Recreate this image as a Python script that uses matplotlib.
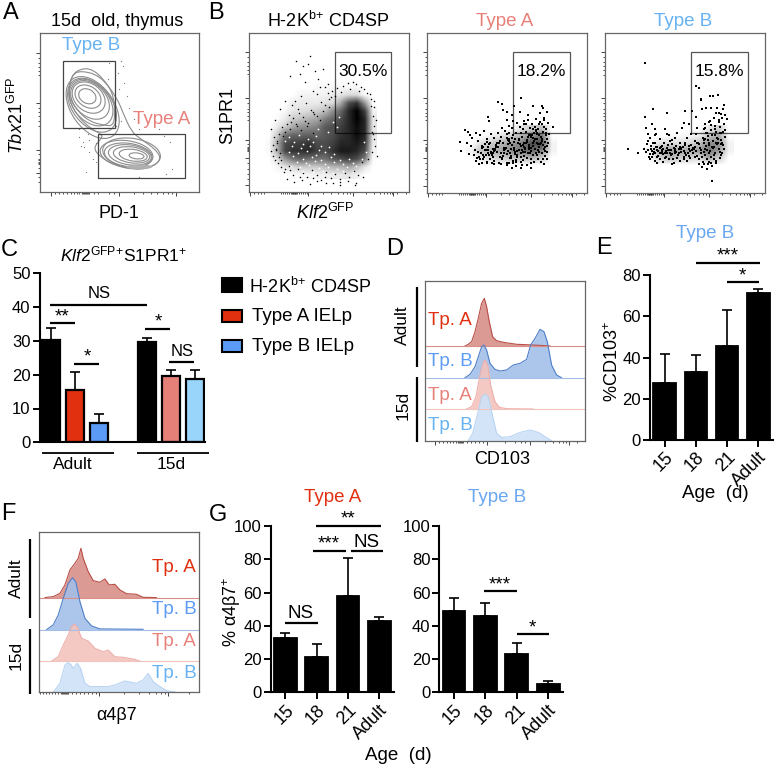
import matplotlib
matplotlib.use('Agg')
import matplotlib.pyplot as plt
from matplotlib.colors import LinearSegmentedColormap
from matplotlib.lines import Line2D
from matplotlib.patches import Ellipse, PathPatch, Rectangle
from matplotlib.path import Path

plt.rcParams['font.family'] = ['Liberation Sans', 'DejaVu Sans']
plt.rcParams['mathtext.fontset'] = 'custom'
plt.rcParams['mathtext.rm'] = 'Liberation Sans'
plt.rcParams['mathtext.it'] = 'Liberation Sans:italic'
plt.rcParams['mathtext.bf'] = 'Liberation Sans:bold'

W, H = 774, 766
RED, BLUE, SALMON, SKY = '#e03010', '#5b9bf5', '#e8807a', '#66b2f2'

# --- bar chart values ---
c_vals = [30.2, 15.5, 5.7, 29.8, 19.5, 18.7]
c_errs = [3.5, 5.3, 2.6, 1.0, 1.8, 2.7]
c_pos = [0, 1, 2, 4, 5, 6]
c_cols = ['black', RED, '#5b9bf5', 'black', '#e48078', '#99d4fb']
ages = ['15', '18', '21', 'Adult']
e_vals = [27.5, 33, 45.5, 71.5]
e_errs = [14, 8, 17.3, 1.8]
g1_vals = [32.5, 21.5, 58, 43]
g1_errs = [3, 7.5, 23, 2.5]
g2_vals = [49, 46, 23, 5]
g2_errs = [7.5, 7.5, 6.5, 2]

# --- histogram traces (channel, height) ---
d_aa_x = [39.7, 43, 46.3, 49.7, 53, 56.3, 59, 61.3, 64, 67.3, 71.3, 78, 91.3, 108, 124.7]
d_aa_h = [0, 1.7, 4.3, 14.3, 27.7, 42.7, 47.7, 39.3, 24.3, 9.3, 5.3, 3.7, 1.7, 1, 0]
d_ab_x = [39.7, 44.7, 49.7, 53, 56.3, 58.7, 61.3, 64.7, 69.7, 74.7, 81.3, 88, 94.7, 101.3, 105.3, 109.7, 114.7, 118.7, 122, 126.3, 131.3, 136.3]
d_ab_h = [0, 3.3, 11, 21, 31, 32.7, 27.7, 14.3, 8.3, 6.7, 7.7, 12.7, 14.3, 18.3, 32.7, 39.3, 48.3, 46, 36, 12.7, 2.7, 0]
d_ya_x = [41.3, 46.3, 50.7, 54.7, 58, 60, 62.7, 65.3, 69.7, 74, 81.3, 108]
d_ya_h = [0, 2.3, 12.3, 34, 47.3, 48.7, 42.3, 24, 7.3, 1.7, 0.3, 0]
d_yb_x = [43, 47.3, 52, 56.3, 59.7, 63, 66.3, 71.3, 76.3, 84.7, 94.7, 104.7, 113, 119.7, 126.3]
d_yb_h = [0, 7.3, 25.7, 44, 46.7, 44, 29, 7.3, 3.3, 4, 8.3, 10.7, 8.3, 4, 0]
f_aa_x = [5.7, 14, 20.7, 25.7, 30.7, 35.7, 39, 41.7, 44, 49, 54, 60.7, 65.7, 70, 75.7, 80.7, 87.3, 97.3, 104, 117.3]
f_aa_h = [0, 1, 4.3, 12.7, 27.7, 34.3, 39.3, 49.3, 39.3, 26, 17, 15.3, 18.7, 12.7, 13.3, 7.7, 4, 3.3, 0.3, 0]
f_ab_x = [7.3, 14, 19, 24, 29, 33.3, 36.7, 40.7, 45.7, 52.3, 60.7, 104]
f_ab_h = [0, 4.7, 14.7, 31.3, 46.3, 52, 47.3, 28, 11.3, 3.7, 0.7, 0.3]
f_ya_x = [12.3, 19, 24, 29, 32.3, 34.7, 38, 42.3, 49, 55.7, 64, 69, 75.7, 84, 94, 100.7]
f_ya_h = [0, 4.3, 16, 26, 34.3, 37, 34.3, 22.7, 20, 12.7, 9.3, 11, 4.3, 3.7, 2, 0]
f_yb_x = [14, 20.7, 25.7, 28.3, 31.3, 34, 38, 41.3, 45.7, 50.7, 60.7, 69, 75.7, 85.7, 97.3, 104, 109, 114, 120.7, 127.3, 137.3]
f_yb_h = [0, 9, 27.3, 29.7, 28.3, 24, 29, 24, 9, 5.7, 5.7, 5.7, 7.3, 11.3, 9, 12.3, 19, 10.7, 5.7, 1.7, 0]

# --- contour rings panel A: cx, cy, w, h, angle ---
rings_b = [(144, 289, 55, 42, -30), (146, 288, 85, 62, -35), (148, 285, 110, 82, -40), (152, 278, 135, 95, -45),
           (155, 270, 160, 108, -50), (158, 262, 185, 118, -52), (160, 255, 210, 128, -55)]
rings_a = [(292, 109, 45, 18, -6), (282, 111, 85, 35, -8), (277, 112, 110, 48, -8), (272, 112, 130, 60, -8),
           (267, 112, 145, 70, -8), (262, 115, 160, 80, -8), (277, 117, 175, 90, -8)]
outer1_x = [87, 97, 122, 157, 192, 222, 227, 222, 192, 152, 117, 94]
outer1_y = [307, 352, 372, 372, 342, 297, 237, 199, 202, 212, 242, 277]
outer2_x = [122, 182, 232, 252, 277, 302, 352, 367, 332, 282, 222, 182, 162, 182, 192, 152, 112, 90, 87, 97]
outer2_y = [367, 352, 287, 237, 182, 162, 127, 97, 72, 67, 82, 107, 132, 157, 172, 192, 232, 277, 307, 352]
a_dots_x = [120, 145, 240, 255, 262, 270, 285, 120, 130, 135, 150, 160, 170, 392, 375, 360, 330, 300, 250, 245, 235, 140, 125, 150, 170, 400, 380, 300, 205, 210, 230, 245]
a_dots_y = [190, 175, 310, 330, 290, 255, 220, 165, 150, 135, 120, 100, 90, 150, 170, 190, 175, 190, 380, 395, 360, 60, 140, 158, 148, 70, 55, 45, 340, 390, 200, 215]

b1_dens = [
    [0, 0, 0, 0, 0, 0, 0, 0, 0, 0, 0, 0, 0, 0],
    [0, 0, 0, 0, 0, 0, 0, 0, 0, 0, 0, 0, 0, 0],
    [0, 0, 0, 0, 0, 0, 0, 0, 0, 0, 0, 0, 0, 0],
    [0, 0, 0, 0, 0, 0, .03, .03, .03, .03, .03, .03, 0, 0],
    [0, 0, 0, 0, .05, .05, .05, .05, .08, .1, .15, .15, .03, 0],
    [0, 0, 0, .08, .08, .08, .08, .12, .15, .35, .7, .8, .4, 0],
    [0, 0, .03, .1, .12, .15, .2, .25, .45, .6, .85, 1, .75, .05],
    [0, .02, .08, .2, .25, .3, .35, .5, .6, .7, .85, 1, .85, .1],
    [0, .08, .2, .35, .42, .45, .5, .65, .7, .75, .85, .95, .85, .1],
    [0, .2, .55, .6, .6, .62, .6, .65, .7, .8, .85, .95, .85, .1],
    [.02, .3, .7, .75, .75, .8, .7, .7, .75, .85, .85, .9, .8, .08],
    [.02, .3, .72, .8, .8, .85, .75, .7, .8, .9, .9, .85, .7, .05],
    [0, .12, .4, .55, .6, .55, .55, .55, .65, .7, .75, .7, .5, .02],
    [0, .03, .1, .15, .2, .2, .2, .25, .28, .3, .35, .25, .1, 0],
    [0, 0, 0, .02, .03, .03, .05, .05, .08, .08, .1, .06, 0, 0],
]
b1_x = [141, 161, 181, 196, 151, 176, 206, 221, 166, 191, 211, 236, 136, 156, 121, 106, 91, 76, 66, 81, 96, 121, 151, 191, 231, 271, 316, 341, 371, 381, 376, 366, 331, 301, 276, 246, 226, 203,
        128, 146, 170, 190, 215, 240, 118, 132, 150, 168, 186, 204, 222, 240, 258, 112, 126, 143, 160, 177, 194, 211, 228, 98, 108, 122, 139, 156, 173, 190, 88, 101,
        84, 72, 79, 91, 70, 66, 78, 86, 74, 83, 95, 107, 90, 104, 118, 132, 146, 160, 174, 188, 202, 216, 230, 244, 258, 272, 286, 300, 314, 328, 112, 135, 158, 181, 204, 227, 250, 273, 296, 319,
        372, 376, 368, 374, 379, 370, 383, 366, 375, 362, 354, 345, 336, 322, 310, 296, 280, 262, 248, 236, 340, 356]
b1_y = [396, 381, 411, 366, 356, 386, 341, 371, 331, 306, 316, 326, 276, 291, 351, 276, 251, 216, 191, 126, 96, 66, 46, 41, 26, 31, 21, 46, 176, 216, 256, 281, 306, 311, 301, 286, 316, 296,
        262, 250, 268, 240, 272, 258, 232, 222, 238, 215, 248, 228, 246, 280, 290, 205, 212, 198, 226, 208, 236, 218, 262, 195, 182, 190, 204, 186, 198, 178, 175, 168,
        155, 142, 130, 118, 108, 125, 96, 88, 165, 148, 75, 68, 105, 60, 78, 52, 70, 58, 44, 66, 50, 36, 60, 42, 54, 38, 58, 44, 62, 50, 40, 30, 36, 24, 32, 44, 28, 22, 34, 26,
        230, 200, 180, 160, 140, 120, 110, 260, 275, 295, 300, 310, 318, 325, 332, 328, 320, 315, 305, 300, 90, 100]
b1_wx = [120, 148, 175, 199, 108, 135, 162, 190, 215, 128, 155, 182, 210, 238, 118, 145, 172, 200, 228, 255, 132, 160, 188, 216, 244, 272, 300, 142, 170, 198, 226, 254, 282, 310, 125, 152, 180, 208, 236, 264, 292, 320, 160, 190, 220, 250, 280, 310, 205, 235, 262, 345, 352, 338, 250, 268]
b1_wy = [165, 172, 160, 170, 155, 150, 145, 152, 140, 140, 132, 138, 128, 136, 122, 118, 125, 112, 120, 115, 108, 100, 105, 98, 106, 96, 100, 92, 88, 94, 86, 90, 84, 88, 78, 74, 80, 72, 76, 70, 74, 78, 64, 60, 62, 58, 64, 60, 190, 180, 195, 150, 120, 100, 210, 225]

b2_dens = [
    [0, 0, 0, 0, 0, .12, .2, .25, 0],
    [0, 0, .05, .12, .2, .3, .45, .55, 0],
    [0, .12, .2, .3, .4, .5, .7, .7, .05],
    [.05, .25, .3, .35, .45, .55, .6, .5, .05],
    [0, .1, .15, .2, .25, .25, .3, .2, 0],
    [0, 0, 0, 0, 0, 0, 0, 0, 0],
]
b2_x = [213, 223, 280, 260, 228, 238, 183, 184, 318, 343, 346, 358, 278, 253, 238, 113, 123, 128, 98, 101, 125, 156, 163, 178, 193, 240, 253, 280, 312, 351, 378,
        120, 135, 146, 158, 170, 132, 142, 152, 165, 178, 190, 140, 150, 162, 175, 188, 200, 212, 225, 145, 157, 170, 183, 196, 208, 220, 232, 244, 256,
        168, 180, 192, 205, 218, 230, 242, 254, 266, 278, 290, 302, 314, 326, 338, 350, 362, 248, 260, 272, 284, 296, 308, 320, 332, 344, 356, 366,
        252, 264, 276, 288, 300, 312, 324, 336, 348, 360, 258, 270, 282, 294, 306, 318, 330, 342, 354, 244, 266, 288, 310, 332, 352,
        196, 210, 224, 238, 252, 266, 280, 294, 308, 322, 336, 350, 360, 200, 216, 232, 248, 264, 280, 296, 312, 328, 344, 186, 204, 222, 240, 258, 276, 294, 312, 330, 348,
        172, 190, 208, 226, 244, 262, 280, 298, 316, 334, 352, 180, 200, 220, 240, 260, 280, 300, 320, 340, 358, 210, 230, 250, 270, 290, 310, 330, 225, 245, 265, 285, 305, 325,
        151, 163, 177, 185, 199, 213, 227, 241, 255, 269, 283, 297, 311, 325, 339, 353, 155, 168, 181, 194, 207, 221, 235, 249, 263, 277, 291, 305, 319, 333, 347, 361, 174, 189, 203, 217, 231, 246, 261, 275, 289, 303, 317, 331, 345, 358,
        167, 183, 198, 214, 229, 243, 258, 273, 287, 301, 316, 329, 343, 356, 286, 299, 313, 327, 341, 355, 291, 306, 322, 337, 351, 301, 318, 335, 349, 268, 254, 239]
b2_y = [271, 266, 284, 260, 248, 243, 226, 215, 260, 260, 253, 243, 243, 233, 218, 188, 181, 173, 153, 125, 116, 86, 90, 90, 90, 83, 73, 73, 73, 86, 198,
        150, 165, 178, 172, 185, 140, 128, 155, 140, 160, 175, 112, 105, 118, 128, 148, 165, 178, 195, 96, 100, 108, 118, 132, 150, 168, 185, 200, 215,
        138, 152, 122, 138, 155, 128, 145, 165, 180, 196, 215, 232, 205, 222, 238, 225, 208, 120, 135, 150, 168, 182, 195, 178, 192, 205, 190, 175,
        105, 115, 128, 142, 158, 172, 160, 172, 182, 160, 95, 108, 118, 130, 142, 150, 160, 148, 138, 88, 92, 98, 88, 102, 110,
        108, 122, 100, 115, 132, 98, 108, 122, 118, 132, 122, 132, 122, 95, 88, 132, 148, 162, 178, 205, 125, 148, 118, 112, 128, 118, 90, 90, 160, 135, 100, 112, 100,
        128, 118, 138, 148, 178, 118, 140, 105, 112, 138, 152, 92, 85, 85, 165, 152, 92, 82, 92, 92, 100, 148, 135, 110, 125, 150, 168, 175, 105, 162, 80, 82, 172, 185,
        122, 135, 112, 145, 125, 138, 110, 125, 142, 112, 128, 148, 135, 118, 145, 125, 108, 102, 128, 112, 142, 120, 135, 105, 122, 145, 110, 138, 155, 128, 142, 150, 145, 102, 130, 108, 118, 155, 128, 158, 138, 118, 165, 145, 162, 140,
        112, 138, 120, 148, 132, 158, 172, 150, 122, 168, 140, 180, 155, 172, 190, 152, 172, 188, 168, 180, 205, 130, 196, 212, 198, 218, 190, 205, 218, 210, 195, 175]

b3_dens = [
    [0, 0, 0, 0, 0, 0, .1, .2, 0],
    [0, 0, .03, .03, .04, .06, .25, .35, 0],
    [0, .12, .15, .12, .14, .25, .45, .45, .05],
    [.05, .3, .4, .35, .35, .4, .55, .4, .05],
    [0, .18, .28, .22, .18, .15, .35, .2, 0],
    [0, 0, 0, 0, 0, 0, 0, 0, 0],
]
b3_x = [118, 320, 271, 280, 288, 286, 314, 322, 339, 144, 120, 184, 239, 259, 69, 97, 116, 128, 150, 140, 122, 134, 152, 165, 180, 192, 200, 215, 230, 245, 258,
        272, 290, 302, 318, 334, 346, 356, 364, 300, 310, 325, 340, 352, 294, 306, 318, 330, 342, 350, 360, 296, 308, 320, 332, 344, 356, 300, 312, 324, 336,
        348, 360, 288, 298, 310, 322, 334, 346, 358, 280, 292, 304, 316, 328, 340, 352, 272, 284, 296, 308, 320, 332, 344, 276, 290, 304, 318, 332, 346,
        125, 138, 150, 163, 176, 188, 200, 213, 226, 238, 250, 262, 130, 144, 158, 172, 186, 200, 214, 228, 242, 256, 270, 135, 150, 165, 180, 195, 210, 225, 240, 255,
        128, 142, 156, 170, 184, 198, 212, 226, 240, 254, 268, 282, 140, 156, 172, 188, 204, 220, 236, 252, 268, 122, 148, 174, 200, 155, 170, 190, 205, 280, 295, 310, 325,
        150, 165, 185, 210, 272, 300, 328, 345, 165, 195, 225, 245, 235, 250, 275,
        127, 136, 147, 154, 168, 178, 191, 206, 219, 233, 247, 261, 274, 287, 303, 315, 327, 338, 349, 133, 146, 159, 169, 183, 194, 208, 222, 236, 249, 263, 277, 289, 305, 319, 331, 343, 355,
        141, 153, 167, 181, 196, 209, 224, 237, 251, 266, 281, 297, 312, 326, 339, 351, 299, 313, 329, 341, 353, 303, 317, 333, 347, 295, 309, 323, 337]
b3_y = [391, 36, 320, 314, 280, 279, 291, 291, 292, 252, 227, 238, 245, 245, 130, 118, 130, 175, 190, 205, 195, 165, 175, 160, 190, 172, 158, 180, 195, 165, 175,
        228, 252, 255, 255, 255, 235, 262, 220, 205, 212, 225, 240, 250, 165, 178, 188, 200, 212, 225, 232, 150, 158, 172, 182, 196, 205, 130, 142, 155, 165,
        178, 188, 120, 112, 118, 135, 145, 158, 168, 100, 92, 100, 108, 120, 130, 142, 125, 135, 122, 85, 80, 95, 105, 150, 78, 72, 90, 88, 112,
        145, 130, 118, 135, 148, 128, 115, 140, 122, 148, 130, 118, 108, 115, 125, 115, 135, 145, 105, 130, 112, 142, 155, 100, 95, 100, 105, 120, 130, 150, 118, 105,
        155, 148, 138, 128, 118, 112, 122, 135, 142, 125, 138, 145, 125, 108, 132, 142, 100, 118, 102, 110, 108, 122, 150, 92, 85, 88, 140, 102, 90, 85, 85, 92, 100,
        172, 160, 175, 165, 175, 162, 172, 178, 118, 155, 95, 95, 210, 205, 195,
        128, 140, 122, 128, 138, 120, 128, 135, 112, 138, 120, 128, 110, 128, 140, 125, 112, 148, 120, 115, 132, 110, 122, 108, 118, 124, 132, 108, 118, 135, 148, 108, 128, 138, 150, 122, 132,
        108, 138, 118, 125, 128, 118, 138, 125, 140, 132, 145, 158, 148, 138, 162, 148, 195, 215, 192, 218, 182, 178, 202, 238, 145, 192, 170]

# --- flow axis ticks ---
b_xmaj = [3, 176, 310, 433]
b_xmin = [15, 27, 36, 44, 94, 100, 106, 112, 118, 124, 128, 130, 132, 134, 136, 138, 140, 144, 150, 156, 162, 168, 172, 220, 245, 265, 280, 292, 302, 350, 375, 392, 405, 415, 424, 430, 445, 470]
b_ymaj = [423, 284, 158, 103, 20]
b_ymin = [408, 392, 380, 368, 355, 268, 252, 240, 230, 218, 146, 136, 133, 130, 127, 124, 88, 70, 55, 40]
a_xmaj = [34, 240, 412]
a_xmin = [46, 58, 70, 82, 94, 104, 112, 120, 127, 130, 133, 136, 139, 142, 145, 150, 165, 175, 210, 225, 285, 310, 335, 355, 372, 388, 400]
a_ymaj = [420, 269, 127, 57]
a_ymin = [405, 390, 378, 365, 352, 255, 240, 228, 215, 200, 115, 100, 96, 92, 88, 84, 72, 45, 30]

fig = plt.figure(figsize=(W / 100, H / 100), dpi=100)
fig.patch.set_facecolor('white')


def axpx(l, t, r, b):
    return fig.add_axes([l / W, 1 - b / H, (r - l) / W, (b - t) / H])


def txt(x, y, s, size=13, color='black', **kw):
    kw.setdefault('ha', 'center')
    kw.setdefault('va', 'center')
    fig.text(x / W, 1 - y / H, s, fontsize=size, color=color, **kw)


def hline(x0, x1, y, lw=1.6, color='black'):
    fig.add_artist(Line2D([x0 / W, x1 / W], [1 - y / H, 1 - y / H], color=color, lw=lw, solid_capstyle='butt'))


def vline(x, y0, y1, lw=1.6):
    fig.add_artist(Line2D([x / W, x / W], [1 - y0 / H, 1 - y1 / H], color='black', lw=lw, solid_capstyle='butt'))


def frame(ax, lim, xmaj, xmin, ymaj=None, ymin=None):
    ax.set_xlim(0, lim)
    ax.set_ylim(0, lim)
    ax.patch.set_alpha(0)
    for s in ax.spines.values():
        s.set_color('#666666')
        s.set_linewidth(0.9)
    ax.set_xticks(xmaj)
    ax.set_xticks(xmin, minor=True)
    ax.set_yticks(ymaj if ymaj else [])
    ax.set_yticks(ymin if ymin else [], minor=True)
    ax.set_xticklabels([])
    ax.set_yticklabels([])
    ax.tick_params(which='major', length=2.8, width=0.6, color='#222222')
    ax.tick_params(which='minor', length=1.6, width=0.6, color='#333333')


def gate(ax, x0, y0, x1, y1, color='#444444'):
    ax.add_patch(Rectangle((x0, y0), x1 - x0, y1 - y0, fill=False, ec=color, lw=0.9, zorder=1))


def loop(ax, xs, ys, color='#8c8c8c'):
    # closed rounded outline through the read-off corners
    pts = list(zip(xs, ys))
    mids = [((p[0] + q[0]) / 2, (p[1] + q[1]) / 2) for p, q in zip(pts, pts[1:] + pts[:1])]
    verts = [mids[-1]]
    codes = [Path.MOVETO]
    for p, m in zip(pts, mids):
        verts += [p, m]
        codes += [Path.CURVE3, Path.CURVE3]
    ax.add_patch(PathPatch(Path(verts, codes), fill=False, ec=color, lw=0.8))


cloud = LinearSegmentedColormap.from_list('cloud', [(0, 0, 0, 0), (0, 0, 0, 1)])


def density(ax, grid, x0, x1, y0, y1):
    ax.imshow(grid, cmap=cloud, vmin=0, vmax=1, extent=(x0, x1, y0, y1), aspect='auto', interpolation='bilinear', zorder=2)


def bars(ax, pos, vals, errs, cols, yticks, xlim, edge=1.3, width=0.725):
    ax.bar(pos, vals, width=width, color=cols, edgecolor='black', linewidth=edge, zorder=2)
    ax.errorbar(pos, vals, yerr=[[0] * len(errs), errs], fmt='none', ecolor='black', elinewidth=1.2, capsize=3.3, capthick=1.2, zorder=1)
    ax.set_xlim(*xlim)
    ax.set_ylim(0, yticks[-1])
    ax.set_yticks(yticks)
    ax.spines['top'].set_visible(False)
    ax.spines['right'].set_visible(False)
    ax.spines['left'].set_linewidth(1.5)
    ax.spines['bottom'].set_linewidth(1.5)
    ax.patch.set_alpha(0)
    ax.tick_params(axis='y', length=5, width=1.4, labelsize=12, pad=1.5)
    ax.tick_params(axis='x', length=5, width=1.4, labelsize=12, pad=1.5)


def age_ticks(ax):
    ax.set_xticks(range(4))
    ax.set_xticklabels(ages, rotation=45, ha='right', rotation_mode='anchor', fontsize=13)


# ---- A
ax_a = axpx(39.5, 33, 199, 192)
frame(ax_a, 480, a_xmaj, a_xmin, a_ymaj, a_ymin)
for cx, cy, w, h, ang in rings_b + rings_a:
    ax_a.add_patch(Ellipse((cx, cy), w, h, angle=ang, fill=False, ec='#8c8c8c', lw=0.8))
loop(ax_a, outer1_x, outer1_y)
loop(ax_a, outer2_x, outer2_y)
ax_a.add_patch(Ellipse((300, 76), 75, 12, fill=True, fc='#b0b0b0', ec='#b0b0b0', lw=0.5))
ax_a.scatter(a_dots_x, a_dots_y, s=0.8, color='#777777', lw=0)
gate(ax_a, 72, 192, 226, 394)
gate(ax_a, 177, 42, 437, 176)

# ---- B
ax_b1 = axpx(249.5, 33, 409, 192)
frame(ax_b1, 480, b_xmaj, b_xmin, b_ymaj, b_ymin)
gate(ax_b1, 257, 177, 427, 422, color='#555555')
density(ax_b1, b1_dens, 48, 384, 40, 400)
n = min(len(b1_x), len(b1_y))
ax_b1.scatter(b1_x[:n], b1_y[:n], s=1.2, color='black', lw=0, zorder=3)
n = min(len(b1_wx), len(b1_wy))
ax_b1.scatter(b1_wx[:n], b1_wy[:n], s=1.6, color='white', lw=0, zorder=3)
ax_b1.set_xlim(0, 480)
ax_b1.set_ylim(0, 480)

for ax_b, dens, ext, xs, ys, gx in [
    (axpx(427.3, 33, 587.3, 192.5), b2_dens, (115, 385, 70, 200), b2_x, b2_y, (257, 427)),
    (axpx(605.3, 33, 765.3, 192.5), b3_dens, (115, 385, 70, 200), b3_x, b3_y, (258, 427)),
]:
    frame(ax_b, 480, b_xmaj, b_xmin, b_ymaj, b_ymin)
    gate(ax_b, gx[0], 178, gx[1], 423, color='#555555')
    density(ax_b, dens, *ext)
    n = min(len(xs), len(ys))
    ax_b.scatter(xs[:n], ys[:n], s=4.5, color='black', marker='s', lw=0, zorder=3)
    ax_b.set_xlim(0, 480)
    ax_b.set_ylim(0, 480)

# ---- C
ax_c = axpx(39.5, 273.3, 205, 442.3)
bars(ax_c, c_pos, c_vals, c_errs, c_cols, [0, 10, 20, 30, 40, 50], (-0.48, 6.42), edge=1.6)
ax_c.set_xticks([])

# ---- D
ax_d = axpx(425.3, 280.7, 585.3, 440.7)
frame(ax_d, 160, [9.7, 62, 105, 144], [14, 18, 22, 25, 28, 31, 33, 34, 35, 36, 37, 38, 42, 46, 50, 54, 58, 80, 90, 96, 100, 120, 128, 134, 138, 141, 152])
for base, xs, hs, fc, ec in [
    (94.7, d_aa_x, d_aa_h, '#d98f88', '#b94f48'),
    (63, d_ab_x, d_ab_h, '#a3bfe8', '#4f80c8'),
    (31.7, d_ya_x, d_ya_h, '#f3c3be', '#eeb0aa'),
    (0, d_yb_x, d_yb_h, '#cfe2f8', '#b9d4f3'),
]:
    ys = [base + h for h in hs]
    ax_d.fill_between(xs, base, ys, color=fc, alpha=0.9, lw=0)
    ax_d.plot(xs, ys, color=ec, lw=0.8)
    ax_d.plot([0, 160], [base, base], color=fc, lw=0.8)

# ---- E
ax_e = axpx(650, 275, 773, 440)
bars(ax_e, range(4), e_vals, e_errs, ['black'] * 4, [0, 20, 40, 60, 80], (-0.47, 3.47))
age_ticks(ax_e)

# ---- F
ax_f = axpx(39.3, 532.3, 199, 692.3)
frame(ax_f, 160, [59.7, 129], [1, 4, 7, 10, 13, 16, 19, 22, 23, 24, 25, 26, 27, 28, 29, 33, 37, 41, 45, 49, 53, 57, 85, 100, 110, 117, 122, 126, 150])
for base, xs, hs, fc, ec in [
    (94.7, f_aa_x, f_aa_h, '#d98f88', '#b94f48'),
    (62.7, f_ab_x, f_ab_h, '#a3bfe8', '#4f80c8'),
    (31.3, f_ya_x, f_ya_h, '#f3c3be', '#eeb0aa'),
    (0, f_yb_x, f_yb_h, '#cfe2f8', '#b9d4f3'),
]:
    ys = [base + h for h in hs]
    ax_f.fill_between(xs, base, ys, color=fc, alpha=0.9, lw=0)
    ax_f.plot(xs, ys, color=ec, lw=0.8)
    ax_f.plot([0, 160], [base, base], color=fc, lw=0.8)

# ---- G
ax_g1 = axpx(270.7, 526, 394, 692.3)
bars(ax_g1, range(4), g1_vals, g1_errs, ['black'] * 4, [0, 20, 40, 60, 80, 100], (-0.47, 3.47))
age_ticks(ax_g1)
ax_g2 = axpx(439.3, 526, 563, 692.3)
bars(ax_g2, range(4), g2_vals, g2_errs, ['black'] * 4, [0, 20, 40, 60, 80, 100], (-0.47, 3.47))
age_ticks(ax_g2)

# ---- panel letters
for x, y, s in [(11, 13, 'A'), (216, 13, 'B'), (9, 250, 'C'), (395, 249, 'D'), (604, 248, 'E'), (8, 514, 'F'), (218, 515, 'G')]:
    txt(x, y, s, size=17)

# ---- panel A/B text
txt(117, 21, '15d  old, thymus')
txt(91, 46, 'Type B', color=SKY, size=13.5)
txt(162, 120, 'Type A', color=SALMON, size=13.5)
txt(119, 213, 'PD-1')
txt(17, 115, r'$\mathit{Tbx21}^{\mathrm{GFP}}$', rotation=90)
txt(328, 21, r'H-2K$^{\mathrm{b}}$$^{+}$ CD4SP')
txt(505, 21, 'Type A', color=SALMON, size=13.5)
txt(683, 21, 'Type B', color=SKY, size=13.5)
txt(228, 115, 'S1PR1', rotation=90)
txt(325, 213, r'$\mathit{Klf2}^{\mathrm{GFP}}$')
txt(363.5, 72, '30.5%', size=12.5)
txt(541.5, 72, '18.2%', size=12.5)
txt(719, 72, '15.8%', size=12.5)

# ---- panel C text
txt(123, 254, r'$\mathit{Klf2}^{\mathrm{GFP}}$$^{+}$S1PR1$^{+}$', size=12.5)
hline(50, 147, 305)
txt(99, 293, 'NS', size=12)
hline(50, 75, 323)
txt(62.5, 317, '**', size=13.5)
hline(74, 99.3, 363.7)
txt(87, 357, '*', size=13.5)
hline(145.3, 170.3, 328.7)
txt(158, 322, '*', size=13.5)
hline(169.3, 194.3, 362.3)
txt(182, 351, 'NS', size=12)
hline(42, 114, 453.3, lw=1.3)
hline(136.7, 208.7, 453.3, lw=1.3)
txt(73, 464.5, 'Adult', size=12.5)
txt(170.7, 464.5, '15d', size=12.5)

for y0, y1, col in [(278.3, 291.7, 'black'), (310, 321.7, RED), (340, 351.7, '#5b9bf5')]:
    fig.add_artist(Rectangle((221.7 / W, 1 - y1 / H), 20.5 / W, (y1 - y0) / H, fc=col, ec='black', lw=1.5))
txt(249, 286.7, r'H-2K$^{\mathrm{b}}$$^{+}$ CD4SP', ha='left', size=13)
txt(251.7, 316.7, 'Type A IELp', ha='left', size=13.5)
txt(251.7, 346.7, 'Type B IELp', ha='left', size=13.5)

# ---- panel D text
txt(450, 321, 'Tp. A', color=RED, size=13.5)
txt(450, 362, 'Tp. B', color=BLUE, size=13.5)
txt(450, 395, 'Tp. A', color=SALMON, size=13.5)
txt(450, 425, 'Tp. B', color=SKY, size=13.5)
vline(416.7, 286.7, 366.7)
vline(416.7, 376.7, 441.7)
txt(402.7, 325, 'Adult', rotation=90, size=12.5)
txt(402.7, 405, '15d', rotation=90, size=12.5)
txt(502, 460, 'CD103')

# ---- panel E text
txt(705, 233, 'Type B', color='#6aa7f2', size=13.5)
hline(695.7, 760, 263)
txt(727.7, 256, '***', size=13.5)
hline(726.7, 759, 281.7)
txt(742.7, 276, '*', size=13.5)
txt(613, 361.7, r'%CD103$^{+}$', rotation=90)
txt(715, 494, 'Age  (d)', size=13.5)

# ---- panel F text
txt(174, 568, 'Tp. A', color=RED, size=13.5)
txt(174, 610, 'Tp. B', color=BLUE, size=13.5)
txt(174, 642, 'Tp. A', color=SALMON, size=13.5)
txt(174, 673, 'Tp. B', color=SKY, size=13.5)
vline(30.3, 539, 618.3)
vline(30.3, 629.3, 694)
txt(16, 577.7, 'Adult', rotation=90, size=12.5)
txt(16, 655.7, '15d', rotation=90, size=12.5)
txt(116.7, 715, 'α4β7')

# ---- panel G text
txt(333, 497, 'Type A', color=RED, size=13.5)
txt(497, 497, 'Type B', color='#6aa7f2', size=13.5)
txt(231.7, 611.7, r'% α4β7$^{+}$', rotation=90)
txt(398, 756, 'Age  (d)', size=13.5)
hline(316, 380.7, 526.3)
txt(348, 519, '**', size=13.5)
hline(313.3, 346, 551)
txt(329, 544, '***', size=13.5)
hline(350.7, 383.3, 551)
txt(366.7, 542.7, 'NS', size=13.5)
hline(285, 317.7, 623)
txt(301, 613, 'NS', size=13.5)
hline(484.3, 516.7, 591.3)
txt(500, 585, '***', size=13.5)
hline(516.7, 549, 634.3)
txt(532.3, 628, '*', size=13.5)

fig.savefig('out.png', dpi=100)
